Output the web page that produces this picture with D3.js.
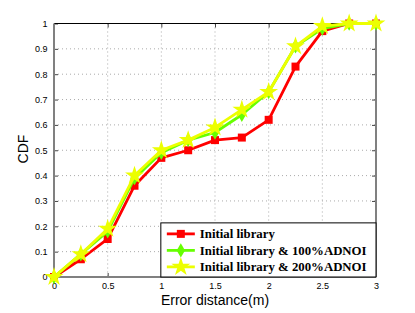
<!DOCTYPE html>
<html>
<head>
<meta charset="utf-8">
<script src="https://cdn.jsdelivr.net/npm/d3@7"></script>
<style>
  body { margin: 0; background: #fff; }
  .tick text { font-family: "Liberation Sans", Arial, sans-serif; font-size: 9px; fill: #000; }
</style>
</head>
<body>
<div id="chart"></div>
<script>
// chart data
var errorDist = [0, 0.25, 0.5, 0.75, 1, 1.25, 1.5, 1.75, 2, 2.25, 2.5, 2.75, 3];
var initialLib = [0, 0.07, 0.15, 0.36, 0.47, 0.50, 0.54, 0.55, 0.62, 0.83, 0.97, 1.0, 1.0];
var adnoi100 = [0, 0.09, 0.18, 0.39, 0.49, 0.54, 0.57, 0.64, 0.73, 0.91, 0.98, 1.0, 1.0];
var adnoi200 = [0, 0.09, 0.19, 0.40, 0.50, 0.54, 0.59, 0.66, 0.73, 0.91, 0.99, 1.0, 1.0];
var seriesNames = ["Initial library", "Initial library & 100%ADNOI", "Initial library & 200%ADNOI"];
var xTicks = [0, 0.5, 1, 1.5, 2, 2.5, 3];
var yTicks = [0, 0.1, 0.2, 0.3, 0.4, 0.5, 0.6, 0.7, 0.8, 0.9, 1];

var svgWidth = 415;
var svgHeight = 313;
var margin = { top: 23.5, right: 39, bottom: 36, left: 54 };
var width = svgWidth - margin.left - margin.right;
var height = svgHeight - margin.top - margin.bottom;

var svg = d3.select("#chart").append("svg")
  .attr("width", svgWidth)
  .attr("height", svgHeight);

var g = svg.append("g")
  .attr("transform", `translate(${margin.left}, ${margin.top})`);

var x = d3.scaleLinear().domain([0, 3]).range([0, width]);
var y = d3.scaleLinear().domain([0, 1]).range([height, 0]);

// dotted grid
g.append("g").selectAll("line").data(xTicks.slice(1, -1)).enter().append("line")
  .attr("x1", d => x(d)).attr("x2", d => x(d))
  .attr("y1", 0).attr("y2", height)
  .attr("stroke", "#aaa").attr("stroke-width", 1).attr("stroke-dasharray", "1,3");
g.append("g").selectAll("line").data(yTicks.slice(1, -1)).enter().append("line")
  .attr("x1", 0).attr("x2", width)
  .attr("y1", d => y(d)).attr("y2", d => y(d))
  .attr("stroke", "#aaa").attr("stroke-width", 1).attr("stroke-dasharray", "1,3");

// axes (ticks pointing in)
g.append("g").attr("transform", `translate(0, ${height})`)
  .call(d3.axisBottom(x).tickValues(xTicks).tickFormat(d3.format("")).tickSizeInner(-4).tickSizeOuter(0).tickPadding(6));
g.append("g")
  .call(d3.axisLeft(y).tickValues(yTicks).tickFormat(d3.format("")).tickSizeInner(-4).tickSizeOuter(0).tickPadding(6.5));
g.append("g").call(d3.axisTop(x).tickValues(xTicks).tickFormat("").tickSizeInner(-4).tickSizeOuter(0));
g.append("g").attr("transform", `translate(${width}, 0)`)
  .call(d3.axisRight(y).tickValues(yTicks).tickFormat("").tickSizeInner(-4).tickSizeOuter(0));
g.selectAll(".domain").remove();
g.selectAll(".tick line").attr("stroke", "#444");

// box
g.append("line").attr("x1", 0).attr("x2", width).attr("y1", 0).attr("y2", 0)
  .attr("stroke", "#000").attr("stroke-width", 1);
g.append("line").attr("x1", 0).attr("x2", width).attr("y1", height).attr("y2", height)
  .attr("stroke", "#808080").attr("stroke-width", 2);
g.append("line").attr("x1", 0).attr("x2", 0).attr("y1", 0).attr("y2", height)
  .attr("stroke", "#808080").attr("stroke-width", 2);
g.append("line").attr("x1", width).attr("x2", width).attr("y1", 0).attr("y2", height)
  .attr("stroke", "#808080").attr("stroke-width", 2);

var series = [
  { name: seriesNames[0], values: initialLib, color: "#ff0000", symbol: d3.symbolSquare, size: 64 },
  { name: seriesNames[1], values: adnoi100, color: "#66ff00", symbol: d3.symbolDiamond, size: 60 },
  { name: seriesNames[2], values: adnoi200, color: "#ecff00", symbol: d3.symbolStar, size: 110 }
];

var line = d3.line()
  .x((d, i) => x(errorDist[i]))
  .y(d => y(d));

series.forEach(function (s) {
  g.append("path")
    .datum(s.values)
    .attr("fill", "none")
    .attr("stroke", s.color)
    .attr("stroke-width", 2.8)
    .attr("stroke-linejoin", "round")
    .attr("d", line);
  g.append("g").selectAll("path").data(s.values).enter().append("path")
    .attr("transform", (d, i) => `translate(${x(errorDist[i])}, ${y(d)})`)
    .attr("d", d3.symbol().type(s.symbol).size(s.size))
    .attr("fill", s.color);
});

// legend
var legend = g.append("g").attr("transform", `translate(${x(1) - 0.5}, ${y(0.2135)})`);
legend.append("rect")
  .attr("width", width - x(1) + 0.5)
  .attr("height", height - y(0.2135))
  .attr("fill", "#fff")
  .attr("stroke", "#000")
  .attr("stroke-width", 1);
series.forEach(function (s, i) {
  var ly = 11 + i * 16.5;
  legend.append("line")
    .attr("x1", 6).attr("x2", 34).attr("y1", ly).attr("y2", ly)
    .attr("stroke", s.color).attr("stroke-width", 2.8);
  legend.append("path")
    .attr("transform", `translate(20, ${ly})`)
    .attr("d", d3.symbol().type(s.symbol).size(s.size))
    .attr("fill", s.color);
  legend.append("text")
    .attr("x", 39).attr("y", ly + 4.5)
    .attr("font-family", "'Liberation Serif', 'Times New Roman', serif")
    .attr("font-weight", "bold")
    .attr("font-size", "12.8px")
    .text(s.name);
});

// axis titles
svg.append("text")
  .attr("x", margin.left + width / 2)
  .attr("y", 305)
  .attr("text-anchor", "middle")
  .attr("font-family", "'Liberation Sans', Arial, sans-serif")
  .attr("font-size", "14px")
  .text("Error distance(m)");

svg.append("text")
  .attr("transform", "rotate(-90)")
  .attr("x", -149)
  .attr("y", 28)
  .attr("text-anchor", "middle")
  .attr("font-family", "'Liberation Sans', Arial, sans-serif")
  .attr("font-size", "14px")
  .text("CDF");
</script>
</body>
</html>
